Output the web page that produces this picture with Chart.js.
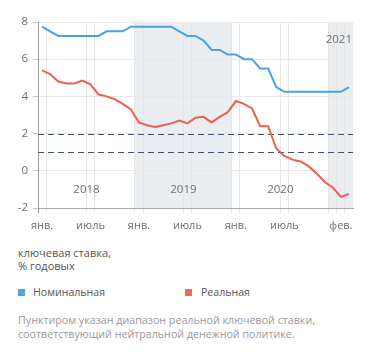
<!DOCTYPE html>
<html>
<head>
<meta charset="utf-8">
<script src="https://cdn.jsdelivr.net/npm/chart.js@4/dist/chart.umd.min.js"></script>
<style>
  html, body { margin: 0; padding: 0; background: #fff; }
  body { width: 371px; height: 357px; position: relative; overflow: hidden; font-family: 'Open Sans', sans-serif; }
  #c { position: absolute; left: 0; top: 0; }
  .txt { position: absolute; white-space: nowrap; }
  .unit { left: 18px; top: 246px; font-size: 11px; line-height: 13px; color: #555; }
  .leg { top: 285px; font-size: 10.6px; line-height: 15px; color: #555; }
  .sw { position: absolute; top: 4px; width: 7px; height: 7px; }
  .note { left: 18px; top: 313px; font-size: 10.7px; line-height: 14.3px; color: #9a9a9a; }
</style>
</head>
<body>
<canvas id="c" width="371" height="240"></canvas>
<div class="txt unit">ключевая ставка,<br>% годовых</div>
<div class="txt leg" id="leg1" style="left:18px"><span class="sw" style="left:0;background:#4fa6df"></span><span style="padding-left:15px">Номинальная</span></div>
<div class="txt leg" id="leg2" style="left:185px"><span class="sw" style="left:0;background:#ee6a5c"></span><span style="padding-left:16px">Реальная</span></div>
<div class="txt note">Пунктиром указан диапазон реальной ключевой ставки,<br>соответствующий нейтральной денежной политике.</div>
<script>
// ---- data ----
const months = [
  '2018-01','2018-02','2018-03','2018-04','2018-05','2018-06','2018-07','2018-08','2018-09','2018-10','2018-11','2018-12',
  '2019-01','2019-02','2019-03','2019-04','2019-05','2019-06','2019-07','2019-08','2019-09','2019-10','2019-11','2019-12',
  '2020-01','2020-02','2020-03','2020-04','2020-05','2020-06','2020-07','2020-08','2020-09','2020-10','2020-11','2020-12',
  '2021-01','2021-02','2021-03'
];
const nominalRate = [
  7.75, 7.5, 7.25, 7.25, 7.25, 7.25, 7.25, 7.25, 7.5, 7.5, 7.5, 7.75,
  7.75, 7.75, 7.75, 7.75, 7.75, 7.5, 7.25, 7.25, 7.0, 6.5, 6.5, 6.25,
  6.25, 6.0, 6.0, 5.5, 5.5, 4.5, 4.25, 4.25, 4.25, 4.25, 4.25, 4.25,
  4.25, 4.25, 4.5
];
const realRate = [
  5.4, 5.2, 4.8, 4.7, 4.7, 4.85, 4.65, 4.1, 4.0, 3.85, 3.6, 3.3,
  2.6, 2.45, 2.35, 2.45, 2.55, 2.7, 2.55, 2.85, 2.9, 2.6, 2.9, 3.15,
  3.75, 3.6, 3.35, 2.4, 2.4, 1.2, 0.8, 0.6, 0.5, 0.25, -0.15, -0.6,
  -0.9, -1.4, -1.25
];
const seriesNames = ['Номинальная', 'Реальная'];
const tickIndex = [0, 6, 12, 18, 24, 30, 37];
const tickText = ['янв.', 'июль', 'янв.', 'июль', 'янв.', 'июль', 'фев.'];
const yearText = ['2018', '2019', '2020', '2021'];
const yearStart = [0, 12, 24, 36];
const shadedYears = ['2019', '2021'];
const neutralRange = [1, 2];
const yTicks = [-2, 0, 2, 4, 6, 8];

// ---- helpers ----
const gridSet = new Set();
tickIndex.forEach(i => { gridSet.add(i); gridSet.add(i + 1); });
yearStart.forEach(i => gridSet.add(i));

const decorPlugin = {
  id: 'decor',
  beforeDraw(chart) {
    const { ctx, chartArea, scales: { x } } = chart;
    ctx.save();
    ctx.fillStyle = '#ebeef0';
    yearText.forEach((yr, k) => {
      if (!shadedYears.includes(yr)) return;
      const s = yearStart[k];
      const e = k + 1 < yearStart.length ? yearStart[k + 1] : months.length;
      const x0 = x.getPixelForValue(s - 0.5);
      const x1 = Math.min(x.getPixelForValue(e - 0.5), chartArea.right);
      ctx.fillRect(x0, chartArea.top, x1 - x0, chartArea.bottom - chartArea.top);
    });
    ctx.restore();
  },
  beforeDatasetsDraw(chart) {
    const { ctx, chartArea, scales: { x, y } } = chart;
    ctx.save();
    ctx.strokeStyle = '#3f5168';
    ctx.lineWidth = 1;
    ctx.setLineDash([6, 4]);
    neutralRange.forEach(v => {
      const py = Math.round(y.getPixelForValue(v)) + 0.5;
      ctx.beginPath();
      ctx.moveTo(chartArea.left, py);
      ctx.lineTo(chartArea.right, py);
      ctx.stroke();
    });
    ctx.setLineDash([]);
    ctx.fillStyle = '#6f6f6f';
    ctx.font = '11.5px "Open Sans", sans-serif';
    ctx.textBaseline = 'middle';
    yearText.forEach((yr, k) => {
      if (k === yearText.length - 1) {
        ctx.textAlign = 'right';
        ctx.fillText(yr, chartArea.right - 1, y.getPixelForValue(7.05));
      } else {
        const s = yearStart[k];
        const e = yearStart[k + 1];
        ctx.textAlign = 'center';
        ctx.fillText(yr, x.getPixelForValue((s + e) / 2 - 0.5), y.getPixelForValue(-1));
      }
    });
    ctx.restore();
  }
};

const xGridColor = (c) => c.index === 0 ? '#9d9d9d' : (gridSet.has(c.index) ? '#e6e6e6' : 'rgba(0,0,0,0)');

new Chart(document.getElementById('c'), {
  type: 'line',
  data: {
    labels: months,
    datasets: [
      { label: seriesNames[0], data: nominalRate, borderColor: '#4aa3df', backgroundColor: '#4aa3df', borderWidth: 2, pointRadius: 0, tension: 0 },
      { label: seriesNames[1], data: realRate, borderColor: '#ef5f4f', backgroundColor: '#ef5f4f', borderWidth: 2, pointRadius: 0, tension: 0 }
    ]
  },
  options: {
    responsive: false,
    animation: false,
    devicePixelRatio: 1,
    layout: { padding: { top: 22, right: 18, left: 0, bottom: 0 } },
    plugins: { legend: { display: false }, tooltip: { enabled: false } },
    scales: {
      x: {
        type: 'category',
        offset: true,
        grid: { offset: true, color: xGridColor, tickColor: xGridColor, lineWidth: 1, tickLength: 5, drawTicks: true },
        border: { display: true, color: '#a8a8a8', width: 1 },
        ticks: {
          autoSkip: false, maxRotation: 0, minRotation: 0, padding: 6,
          color: '#6f6f6f', font: { family: 'Open Sans', size: 11 },
          callback: (v, i) => { const k = tickIndex.indexOf(i); return k >= 0 ? tickText[k] : ''; }
        },
        afterFit: (s) => { s.height = 32; }
      },
      y: {
        min: -2, max: 8,
        afterBuildTicks: (s) => { s.ticks = yTicks.map(v => ({ value: v })); },
        grid: { color: '#e8e8e8', tickColor: '#c4c4c4', tickLength: 5, lineWidth: 1 },
        border: { display: true, color: '#9d9d9d', width: 1 },
        ticks: { padding: 5, color: '#6f6f6f', font: { family: 'Open Sans', size: 11.5 } },
        afterFit: (s) => { s.width = 38; }
      }
    }
  },
  plugins: [decorPlugin]
});
</script>
</body>
</html>
